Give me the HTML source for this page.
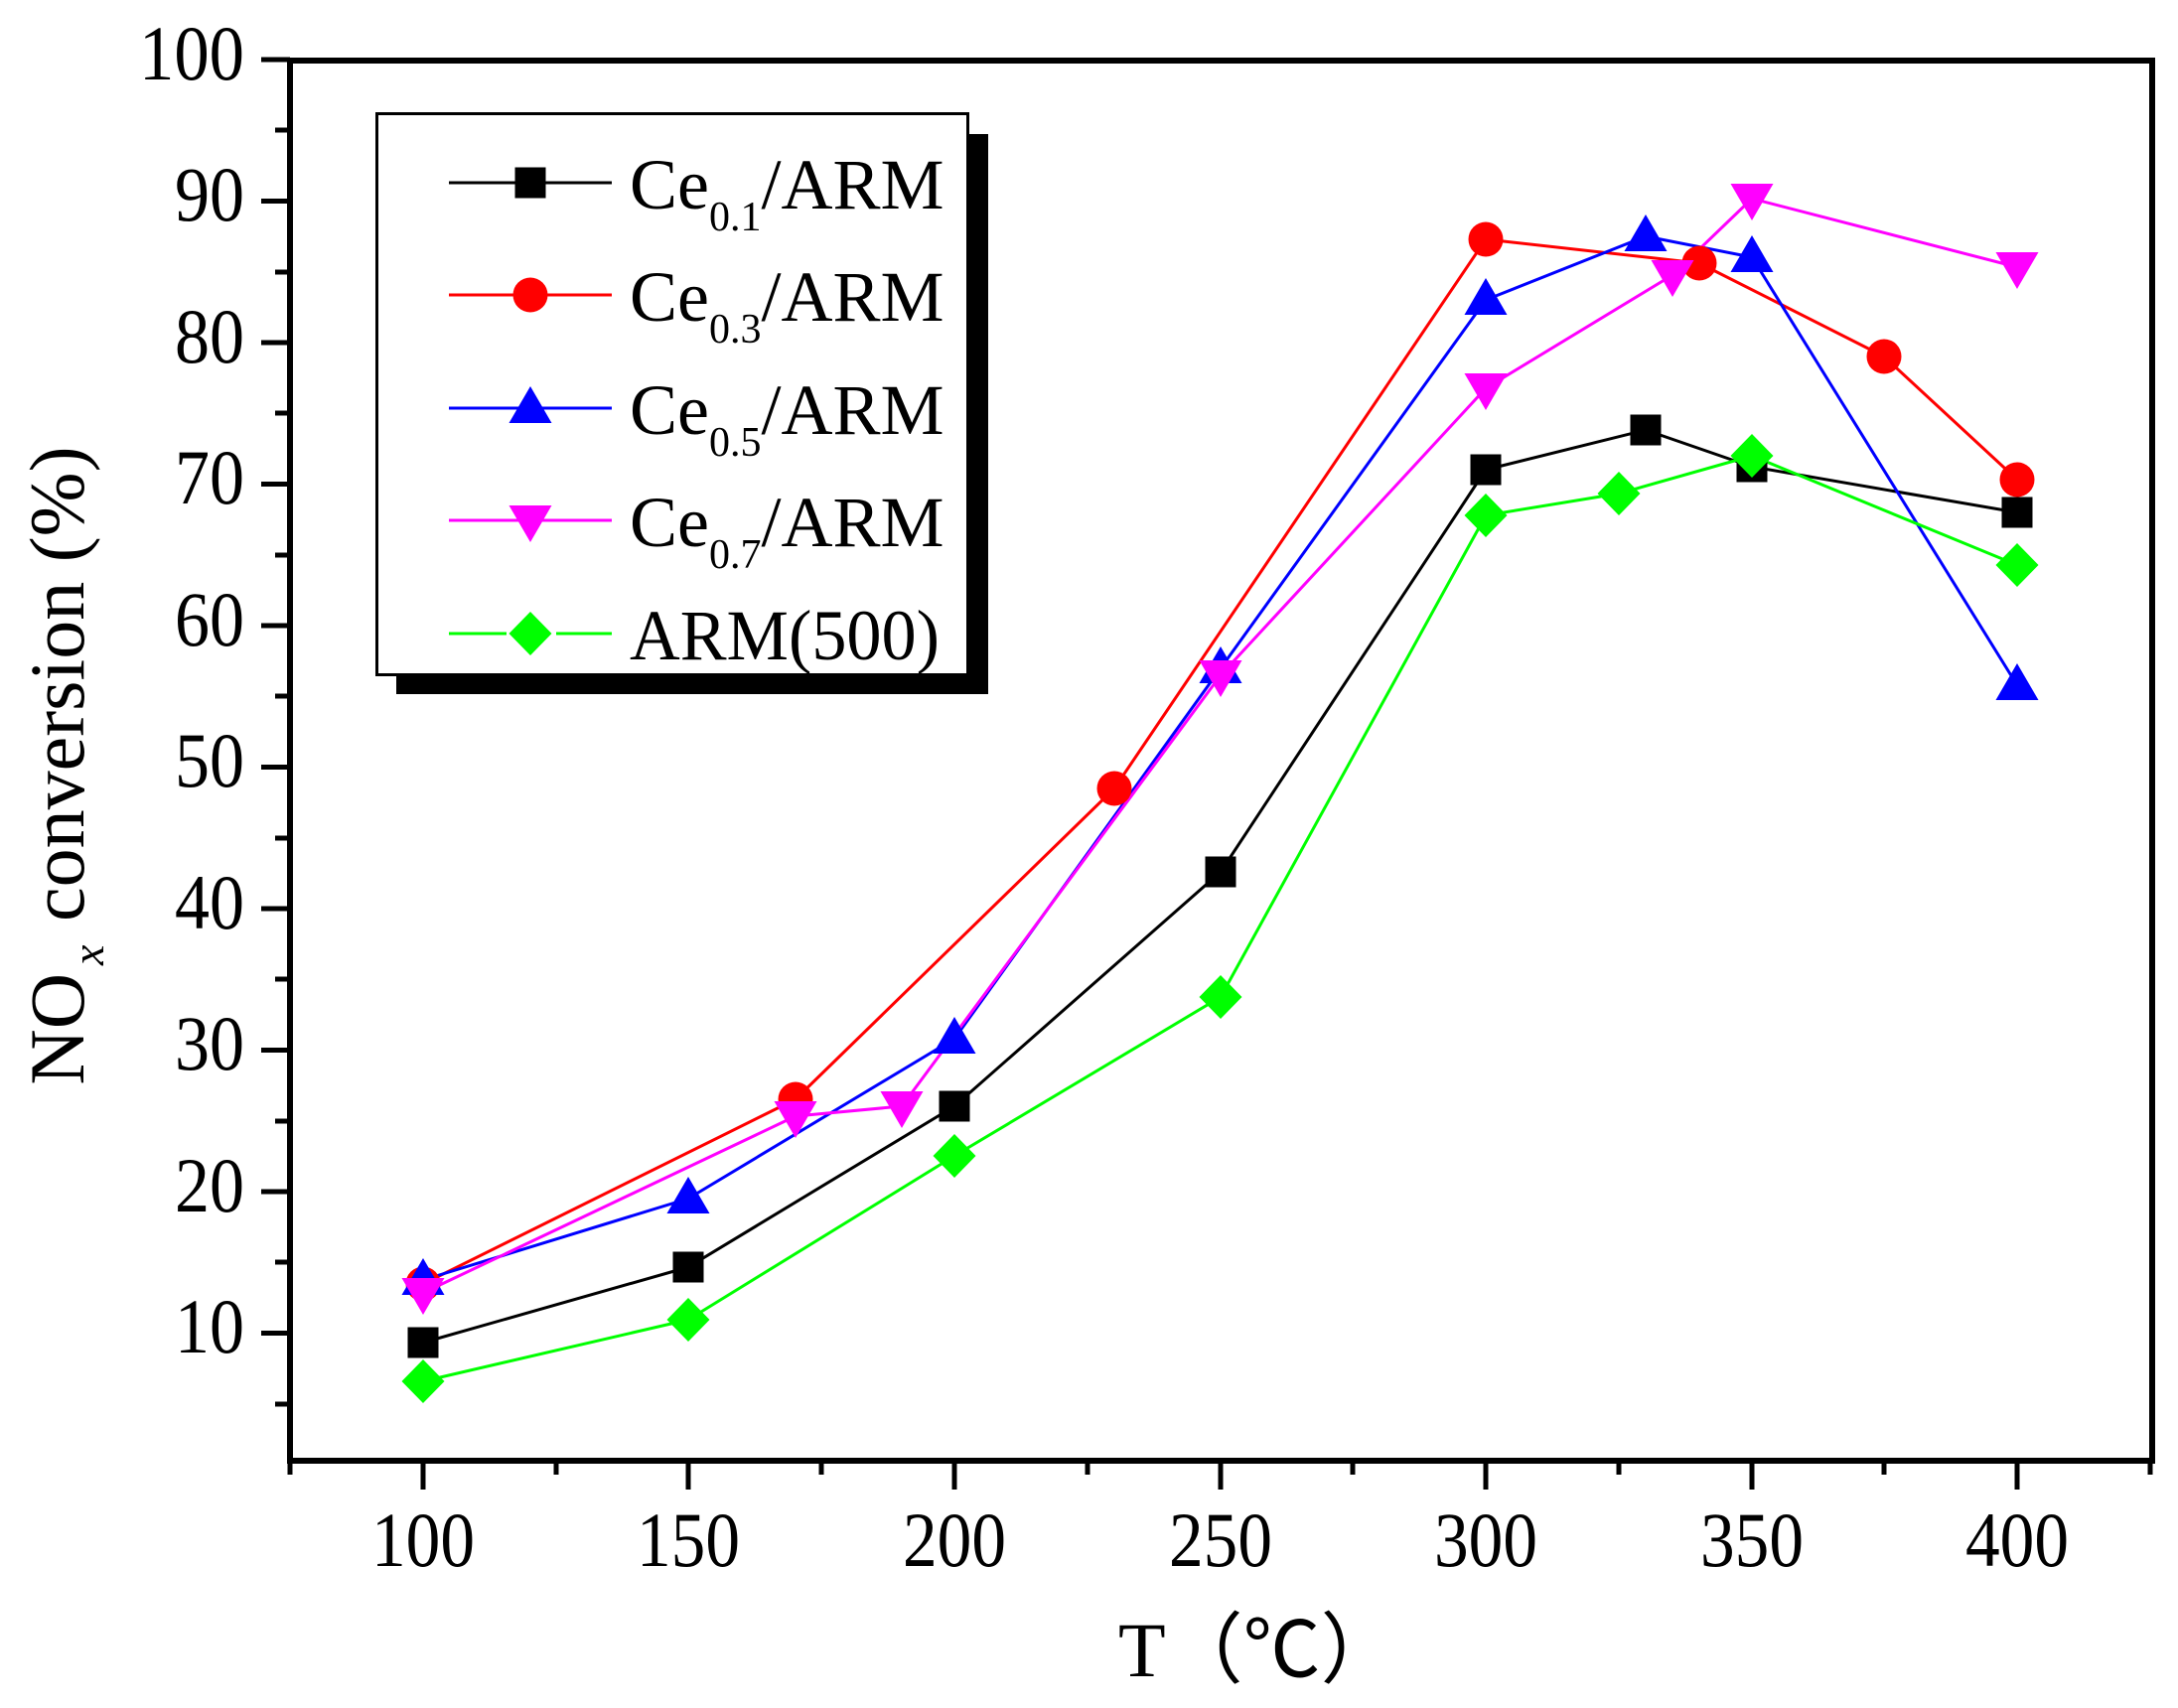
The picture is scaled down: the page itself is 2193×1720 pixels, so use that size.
<!DOCTYPE html>
<html><head><meta charset="utf-8"><style>
html,body{margin:0;padding:0;background:#fff;}
svg{display:block;}
text{font-family:"Liberation Serif",serif;fill:#000;}
</style></head><body>
<svg width="2193" height="1720" viewBox="0 0 2193 1720" xmlns="http://www.w3.org/2000/svg">
<defs>
<g id="sq"><rect x="-15.5" y="-15.5" width="31" height="31" fill="#000"/></g>
<g id="ci"><ellipse cx="0" cy="0" rx="17.5" ry="17.5" fill="#ff0000"/></g>
<g id="tu"><polygon points="0,-22 21.5,15 -21.5,15" fill="#0000ff"/></g>
<g id="td"><polygon points="0,22 21.5,-15 -21.5,-15" fill="#ff00ff"/></g>
<g id="di"><polygon points="0,-22 21.5,0 0,22 -21.5,0" fill="#00ff00"/></g>
</defs>
<rect x="292" y="61" width="1875" height="1410" fill="none" stroke="#000" stroke-width="6"/>
<g stroke="#000" stroke-width="5">
<line x1="263" y1="60" x2="292" y2="60"/><line x1="277" y1="131" x2="292" y2="131"/>
<line x1="263" y1="202.5" x2="292" y2="202.5"/><line x1="277" y1="274" x2="292" y2="274"/>
<line x1="263" y1="345" x2="292" y2="345"/><line x1="277" y1="416" x2="292" y2="416"/>
<line x1="263" y1="487.5" x2="292" y2="487.5"/><line x1="277" y1="559" x2="292" y2="559"/>
<line x1="263" y1="630" x2="292" y2="630"/><line x1="277" y1="701" x2="292" y2="701"/>
<line x1="263" y1="772.5" x2="292" y2="772.5"/><line x1="277" y1="844" x2="292" y2="844"/>
<line x1="263" y1="915" x2="292" y2="915"/><line x1="277" y1="986" x2="292" y2="986"/>
<line x1="263" y1="1057.5" x2="292" y2="1057.5"/><line x1="277" y1="1129" x2="292" y2="1129"/>
<line x1="263" y1="1200" x2="292" y2="1200"/><line x1="277" y1="1271" x2="292" y2="1271"/>
<line x1="263" y1="1342.5" x2="292" y2="1342.5"/><line x1="277" y1="1414" x2="292" y2="1414"/>
</g>
<g stroke="#000" stroke-width="5">
<line x1="292" y1="1471" x2="292" y2="1485"/>
<line x1="426" y1="1471" x2="426" y2="1500"/><line x1="560" y1="1471" x2="560" y2="1485"/>
<line x1="693" y1="1471" x2="693" y2="1500"/><line x1="827" y1="1471" x2="827" y2="1485"/>
<line x1="961" y1="1471" x2="961" y2="1500"/><line x1="1095" y1="1471" x2="1095" y2="1485"/>
<line x1="1229" y1="1471" x2="1229" y2="1500"/><line x1="1362" y1="1471" x2="1362" y2="1485"/>
<line x1="1496" y1="1471" x2="1496" y2="1500"/><line x1="1630" y1="1471" x2="1630" y2="1485"/>
<line x1="1764" y1="1471" x2="1764" y2="1500"/><line x1="1897" y1="1471" x2="1897" y2="1485"/>
<line x1="2031" y1="1471" x2="2031" y2="1500"/><line x1="2165" y1="1471" x2="2165" y2="1485"/>
</g>
<g font-size="78" text-anchor="end">
<text x="246" y="80" textLength="106" lengthAdjust="spacingAndGlyphs">100</text>
<text x="246" y="222" textLength="70" lengthAdjust="spacingAndGlyphs">90</text>
<text x="246" y="365" textLength="70" lengthAdjust="spacingAndGlyphs">80</text>
<text x="246" y="507" textLength="70" lengthAdjust="spacingAndGlyphs">70</text>
<text x="246" y="650" textLength="70" lengthAdjust="spacingAndGlyphs">60</text>
<text x="246" y="792" textLength="70" lengthAdjust="spacingAndGlyphs">50</text>
<text x="246" y="935" textLength="70" lengthAdjust="spacingAndGlyphs">40</text>
<text x="246" y="1077" textLength="70" lengthAdjust="spacingAndGlyphs">30</text>
<text x="246" y="1220" textLength="70" lengthAdjust="spacingAndGlyphs">20</text>
<text x="246" y="1362" textLength="70" lengthAdjust="spacingAndGlyphs">10</text>
</g>
<g font-size="78" text-anchor="middle">
<text x="426" y="1577" textLength="104" lengthAdjust="spacingAndGlyphs">100</text>
<text x="693" y="1577" textLength="104" lengthAdjust="spacingAndGlyphs">150</text>
<text x="961" y="1577" textLength="104" lengthAdjust="spacingAndGlyphs">200</text>
<text x="1229" y="1577" textLength="104" lengthAdjust="spacingAndGlyphs">250</text>
<text x="1496" y="1577" textLength="104" lengthAdjust="spacingAndGlyphs">300</text>
<text x="1764" y="1577" textLength="104" lengthAdjust="spacingAndGlyphs">350</text>
<text x="2031" y="1577" textLength="104" lengthAdjust="spacingAndGlyphs">400</text>
</g>
<text x="1126" y="1688" font-size="78" font-family="Liberation Serif, Noto Serif CJK SC, serif">T（℃）</text>
<g transform="translate(84,771) rotate(-90)">
<text x="0" y="0" font-size="78" text-anchor="middle">NO<tspan font-size="46" font-style="italic" dy="20" dx="8">x</tspan><tspan dy="-20" dx="4"> conversion (%)</tspan></text>
</g>
<g fill="none" stroke-width="3" stroke-linejoin="round">
<polyline stroke="#000" points="426,1352 693,1276 961,1114 1229,878 1496,473 1657,433 1764,470 2031,516"/>
<polyline stroke="#ff0000" points="426,1293 801,1107 1122,794 1496,241 1711,265 1897,359 2031,483"/>
<polyline stroke="#0000ff" points="426,1289 693,1207 961,1046 1229,673 1496,302 1657,238 1764,259 2031,690"/>
<polyline stroke="#ff00ff" points="426,1302 801,1124 908,1114 1229,680 1496,391 1684,277 1764,200 2031,269"/>
<polyline stroke="#00ff00" points="426,1391 693,1329 961,1164 1229,1004 1496,519 1630,497 1764,459 2031,569"/>
</g>
<g>
<use href="#sq" x="426" y="1352"/><use href="#sq" x="693" y="1276"/><use href="#sq" x="961" y="1114"/><use href="#sq" x="1229" y="878"/><use href="#sq" x="1496" y="473"/><use href="#sq" x="1657" y="433"/><use href="#sq" x="1764" y="470"/><use href="#sq" x="2031" y="516"/>
<use href="#ci" x="426" y="1293"/><use href="#ci" x="801" y="1107"/><use href="#ci" x="1122" y="794"/><use href="#ci" x="1496" y="241"/><use href="#ci" x="1711" y="265"/><use href="#ci" x="1897" y="359"/><use href="#ci" x="2031" y="483"/>
<use href="#tu" x="426" y="1289"/><use href="#tu" x="693" y="1207"/><use href="#tu" x="961" y="1046"/><use href="#tu" x="1229" y="673"/><use href="#tu" x="1496" y="302"/><use href="#tu" x="1657" y="238"/><use href="#tu" x="1764" y="259"/><use href="#tu" x="2031" y="690"/>
<use href="#td" x="426" y="1302"/><use href="#td" x="801" y="1124"/><use href="#td" x="908" y="1114"/><use href="#td" x="1229" y="680"/><use href="#td" x="1496" y="391"/><use href="#td" x="1684" y="277"/><use href="#td" x="1764" y="200"/><use href="#td" x="2031" y="269"/>
<use href="#di" x="426" y="1391"/><use href="#di" x="693" y="1329"/><use href="#di" x="961" y="1164"/><use href="#di" x="1229" y="1004"/><use href="#di" x="1496" y="519"/><use href="#di" x="1630" y="497"/><use href="#di" x="1764" y="459"/><use href="#di" x="2031" y="569"/>
</g>
<rect x="399" y="135" width="596" height="564" fill="#000"/>
<rect x="379.5" y="114.5" width="595" height="565" fill="#fff" stroke="#000" stroke-width="3"/>
<g stroke-width="3">
<line x1="452" y1="184" x2="616" y2="184" stroke="#000"/>
<line x1="452" y1="297" x2="616" y2="297" stroke="#ff0000"/>
<line x1="452" y1="411" x2="616" y2="411" stroke="#0000ff"/>
<line x1="452" y1="524" x2="616" y2="524" stroke="#ff00ff"/>
<line x1="452" y1="638" x2="510" y2="638" stroke="#00ff00"/><line x1="560" y1="638" x2="616" y2="638" stroke="#00ff00"/>
</g>
<use href="#sq" x="534" y="184"/><use href="#ci" x="534" y="297"/><use href="#tu" x="534" y="411"/><use href="#td" x="534" y="524"/><use href="#di" x="534" y="638"/>
<g font-size="72">
<text x="634" y="210">Ce<tspan font-size="42" dy="22">0.1</tspan><tspan dy="-22">/ARM</tspan></text>
<text x="634" y="323">Ce<tspan font-size="42" dy="22">0.3</tspan><tspan dy="-22">/ARM</tspan></text>
<text x="634" y="437">Ce<tspan font-size="42" dy="22">0.5</tspan><tspan dy="-22">/ARM</tspan></text>
<text x="634" y="550">Ce<tspan font-size="42" dy="22">0.7</tspan><tspan dy="-22">/ARM</tspan></text>
<text x="634" y="664" textLength="312" lengthAdjust="spacingAndGlyphs">ARM(500)</text>
</g>
</svg>
</body></html>
